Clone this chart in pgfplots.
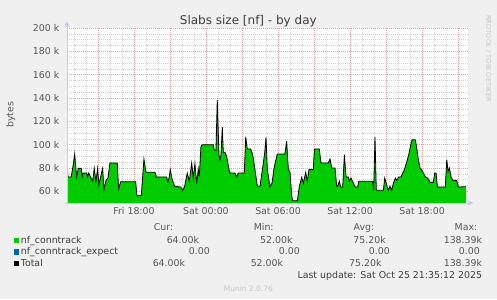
\documentclass[border=0pt]{standalone}
\usepackage{fontspec}
\setmainfont{DejaVu Sans}
\usepackage{pgfplots}
\pgfplotsset{compat=1.18}
\usepackage{pgfplotstable}
\definecolor{bg}{HTML}{F0F0F0}
\definecolor{mgrid}{HTML}{E8A4A4}
\definecolor{ngrid}{HTML}{D2D2D2}
\definecolor{axc}{HTML}{C4C8F4}
\definecolor{txt}{HTML}{555555}
\definecolor{ltxt}{HTML}{3C3C3C}
\definecolor{ctrack}{HTML}{00CC00}
\definecolor{cexp}{HTML}{0066B3}
\newcommand\lf{\fontsize{9.4bp}{11bp}\selectfont}

% hours relative to Sat 00:00, value in k
\pgfplotstableread{
h v
-11.58 83.5
-11.50 72.3
-11.23 72.3
-11.06 82.9
-10.94 92.0
-10.78 72.3
-10.64 79.7
-10.39 79.7
-10.31 72.3
-10.23 75.7
-9.94 75.7
-9.86 72.3
-9.78 75.7
-9.61 72.3
-9.44 68.6
-9.31 79.7
-9.17 68.6
-9.03 79.7
-8.92 65.7
-8.78 72.3
-8.61 79.7
-8.50 61.4
-8.33 69.4
-8.17 71.4
-8.00 84.3
-7.39 84.3
-7.28 62.0
-7.11 68.3
-5.86 68.3
-5.75 56.3
-5.39 56.3
-5.17 87.7
-5.00 76.3
-4.25 76.3
-4.11 72.3
-3.28 72.3
-3.17 68.3
-3.06 72.3
-2.98 78.6
-2.83 70.6
-2.61 64.3
-2.11 63.7
-1.94 60.9
-1.78 64.3
-1.56 75.7
-1.39 68.6
-1.19 84.3
-1.06 71.4
-0.92 83.7
-0.78 66.6
-0.64 79.1
-0.56 72.3
-0.42 98.6
-0.28 100.0
0.61 100.0
0.67 95.7
0.83 95.0
0.94 138.39
1.08 91.4
1.17 87.0
1.25 91.4
1.36 115.0
1.44 93.4
1.58 93.4
1.72 90.0
1.92 78.6
2.00 75.7
2.42 75.7
2.56 72.3
2.69 75.7
3.19 75.7
3.31 106.6
3.44 96.3
3.72 96.3
3.89 91.4
4.08 78.6
4.28 64.3
4.50 64.3
4.72 80.0
4.89 92.9
5.00 106.3
5.11 78.6
5.33 63.7
5.50 67.0
5.67 80.0
5.94 92.0
6.58 92.0
6.72 102.9
6.86 79.1
7.00 76.3
7.14 56.3
7.22 52.0
7.61 52.0
7.78 64.3
7.97 72.0
8.11 67.0
8.31 76.3
8.44 68.6
8.58 78.6
8.94 78.6
9.03 96.3
9.44 96.3
9.58 84.3
10.19 84.3
10.33 87.7
10.47 80.0
10.75 80.0
10.89 64.3
10.97 64.3
11.11 68.6
11.22 63.7
11.39 63.7
11.53 91.4
11.67 72.3
11.86 72.3
11.94 68.6
12.08 71.4
12.28 67.0
12.44 63.7
12.64 63.7
12.72 68.6
13.89 68.6
13.97 60.9
14.08 106.6
14.19 60.9
14.78 60.9
14.89 71.4
15.00 67.7
15.08 64.3
15.19 60.9
15.33 64.3
15.47 60.9
15.61 67.0
15.78 71.4
15.89 69.4
16.06 72.3
16.25 72.3
16.39 75.7
16.53 78.6
16.72 84.9
16.89 91.4
17.06 100.0
17.17 104.3
17.44 104.3
17.56 97.1
17.67 88.6
17.83 80.0
18.00 78.0
18.14 75.1
18.28 72.3
18.47 71.4
18.67 67.7
18.94 67.7
19.06 75.7
19.17 75.7
19.28 63.7
19.94 63.7
20.06 87.1
20.17 77.1
20.28 80.0
20.42 72.3
20.56 69.4
20.89 69.4
21.03 63.7
21.67 64.0
}\conntrack

\begin{document}
\begin{tikzpicture}[x=1bp,y=1bp]
\fill[bg] (0,0) rectangle (497,299);
\useasboundingbox (0,0) rectangle (497,299);
\begin{axis}[
  at={(67bp,96bp)}, anchor=south west,
  scale only axis, width=401bp, height=175bp,
  xmin=-11.58, xmax=21.83, ymin=50, ymax=200,
  axis background/.style={fill=white},
  axis line style={draw=none},
  major tick length=0pt, minor tick length=0pt,
  xtick={-9,-6,...,21},
  xticklabels={,Fri 18:00,,Sat 00:00,,Sat 06:00,,Sat 12:00,,Sat 18:00,},
  minor xtick={-11,-10,...,21},
  ytick={60,80,...,200},
  yticklabels={60 k,80 k,100 k,120 k,140 k,160 k,180 k,200 k},
  minor ytick={55,60,...,200},
  grid=both,
  major grid style={color=mgrid, line width=0.6bp, dash pattern=on 1bp off 1bp},
  minor grid style={color=ngrid, line width=0.6bp, dash pattern=on 1bp off 1bp},
  ticklabel style={font=\lf, text=txt},
  xticklabel style={anchor=north, inner sep=0pt, yshift=-4.5bp},
  yticklabel style={anchor=east, inner sep=0pt, xshift=-7.5bp},
]
\addplot[fill=ctrack, draw=none] table[x=h, y=v] {\conntrack} \closedcycle;
\addplot[black, line width=0.8bp] table[x=h, y=v] {\conntrack};
\end{axis}
% axes with arrows
\draw[axc, line width=0.8bp] (67,96) -- (67,272.5);
\fill[axc] (64.3,272.3) -- (69.7,272.3) -- (67,277.3) -- cycle;
\draw[axc, line width=0.8bp] (65,96) -- (468.5,96);
\fill[axc] (468.3,98.7) -- (468.3,93.3) -- (473.3,96) -- cycle;
% title and labels
\node[anchor=base, text=ltxt, font=\fontsize{12bp}{14bp}\selectfont, inner sep=0pt] at (248.3,274.5) {Slabs size [nf] - by day};
\node[rotate=90, text=txt, font=\lf, inner sep=0pt] at (10.7,184) {bytes};
\node[rotate=-90, text=black!22, font=\fontsize{6.75bp}{8bp}\selectfont, inner sep=0pt] at (488.3,240.5) {RRDTOOL / TOBI OETIKER};
% legend
\begin{scope}[every node/.style={inner sep=0pt, font=\lf, text=txt}]
\node[anchor=base] at (163.5,68.5) {Cur:};
\node[anchor=base] at (263.7,68.5) {Min:};
\node[anchor=base] at (364,68.5) {Avg:};
\node[anchor=base] at (466,68.5) {Max:};
\fill[ctrack] (14,56) rectangle (19.4,61.4);
\fill[cexp] (14,44.3) rectangle (19.4,49.7);
\fill[black] (14,32.7) rectangle (19.4,38.1);
\node[anchor=base west, text=ltxt] at (20.7,56) {nf\_conntrack};
\node[anchor=base west, text=ltxt] at (20.7,44.3) {nf\_conntrack\_expect};
\node[anchor=base west, text=ltxt] at (20.7,32.7) {Total};
\node[anchor=base east] at (199.3,56) {64.00k};
\node[anchor=base east] at (292.7,56) {52.00k};
\node[anchor=base east] at (386,56) {75.20k};
\node[anchor=base east] at (482.3,56) {138.39k};
\node[anchor=base east] at (210,44.3) {0.00};
\node[anchor=base east] at (300,44.3) {0.00};
\node[anchor=base east] at (390,44.3) {0.00};
\node[anchor=base east] at (480,44.3) {0.00};
\node[anchor=base east] at (185.3,32.7) {64.00k};
\node[anchor=base east] at (283.3,32.7) {52.00k};
\node[anchor=base east] at (381.7,32.7) {75.20k};
\node[anchor=base east] at (482.3,32.7) {138.39k};
\node[anchor=base east, text=ltxt] at (482.3,20.7) {Last update: Sat Oct 25 21:35:12 2025};
\node[anchor=base, text=black!22, font=\fontsize{7.5bp}{9bp}\selectfont] at (248.3,8) {Munin 2.0.76};
\end{scope}
\end{tikzpicture}
\end{document}
